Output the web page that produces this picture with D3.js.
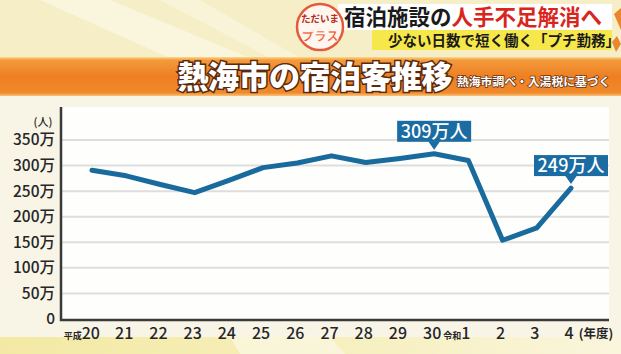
<!DOCTYPE html>
<html>
<head>
<meta charset="utf-8">
<script src="https://cdn.jsdelivr.net/npm/d3@7"></script>
<style>
  body { margin: 0; background: #f8f4e6; }
  svg { display: block; font-family: "Noto Sans CJK JP", "Noto Sans", sans-serif; }
</style>
</head>
<body>
<div id="container"></div>
<script>
/* CONSTANTS AND GLOBALS */
const width = 621,
  height = 354,
  plot = { left: 61, right: 609, top: 107, bottom: 319 };

/* DATA */
const fiscalYears = ["H20", "H21", "H22", "H23", "H24", "H25", "H26", "H27", "H28", "H29", "H30", "R1", "R2", "R3", "R4"];
const yearLabels = ["20", "21", "22", "23", "24", "25", "26", "27", "28", "29", "30", "1", "2", "3", "4"];
const eraLabels = ["平成", "", "", "", "", "", "", "", "", "", "", "令和", "", "", ""];
const guests = [291, 280, 263, 247, 271, 296, 305, 319, 306, 314, 323, 310, 154, 178, 256];
const yTicks = [0, 50, 100, 150, 200, 250, 300, 350];
const calloutYears = ["H30", "R4"];
const calloutLabels = ["309万人", "249万人"];

const titleText = "熱海市の宿泊客推移";
const sourceText = "熱海市調べ・入湯税に基づく";
const headlineBlack = "宿泊施設の";
const headlineRed = "人手不足解消へ";
const subHeadline = "少ない日数で短く働く「プチ勤務」";

const svg = d3.select("#container").append("svg")
  .attr("width", width)
  .attr("height", height);

const defs = svg.append("defs");

const barGrad = defs.append("linearGradient")
  .attr("id", "bar").attr("x1", 0).attr("y1", 0).attr("x2", 0).attr("y2", 1);
barGrad.append("stop").attr("offset", "0%").attr("stop-color", "#fbd98a");
barGrad.append("stop").attr("offset", "8%").attr("stop-color", "#f39a3c");
barGrad.append("stop").attr("offset", "50%").attr("stop-color", "#ee7f22");
barGrad.append("stop").attr("offset", "92%").attr("stop-color", "#f08a2c");
barGrad.append("stop").attr("offset", "100%").attr("stop-color", "#f9c47a");

const footGrad = defs.append("linearGradient")
  .attr("id", "foot").attr("x1", 0).attr("y1", 0).attr("x2", 1).attr("y2", 0);
footGrad.append("stop").attr("offset", "0%").attr("stop-color", "#f3e9a4");
footGrad.append("stop").attr("offset", "45%").attr("stop-color", "#f6eeb8");
footGrad.append("stop").attr("offset", "100%").attr("stop-color", "#faf5dc");

/* BACKGROUND */
svg.append("rect").attr("width", width).attr("height", height).attr("fill", "#f8f4e6");
svg.append("rect").attr("width", width).attr("height", 58).attr("fill", "#f6eec6");
svg.append("path")
  .attr("d", "M40,0 L110,0 L250,58 L170,58 Z")
  .attr("fill", "#fbf7e4").attr("opacity", 0.8);
svg.append("path")
  .attr("d", "M160,0 L200,0 L300,58 L270,58 Z")
  .attr("fill", "#fbf6de").attr("opacity", 0.7);
svg.append("rect").attr("y", 337).attr("width", width).attr("height", 17).attr("fill", "url(#foot)");
svg.append("path")
  .attr("d", "M230,337 L330,337 L345,354 L240,354 Z")
  .attr("fill", "#fbf8e6").attr("opacity", 0.7);

/* HEADLINE BANNER */
svg.append("rect")
  .attr("x", 338).attr("y", 4).attr("width", 274).attr("height", 26)
  .attr("fill", "#ffffff");
svg.append("rect")
  .attr("x", 372).attr("y", 30).attr("width", 240).attr("height", 20)
  .attr("fill", "#f6e84a");

const head = svg.append("text")
  .attr("x", 344).attr("y", 25)
  .attr("font-size", 21.5).attr("font-weight", 700);
head.append("tspan").attr("fill", "#1a1a1a").text(headlineBlack);
head.append("tspan").attr("fill", "#d9261c").text(headlineRed);

svg.append("text")
  .attr("x", 388).attr("y", 46)
  .attr("font-size", 14.5).attr("font-weight", 700)
  .attr("fill", "#1a1a1a")
  .text(subHeadline);

svg.append("path")
  .attr("d", "M614,14 L621,8 L621,30 Z")
  .attr("fill", "#e9872c");
svg.append("path")
  .attr("d", "M612,42 L617,36 L621,44 L616,52 Z")
  .attr("fill", "#e9872c");

const logo = svg.append("g").attr("transform", "translate(320,27)");
logo.append("circle").attr("r", 23).attr("fill", "#fff7ee").attr("stroke", "#e35b3c").attr("stroke-width", 2.5);
logo.append("text").attr("y", -5).attr("text-anchor", "middle")
  .attr("font-size", 9.5).attr("font-weight", 700).attr("fill", "#b52a1c").text("ただいま");
logo.append("text").attr("y", 14).attr("text-anchor", "middle")
  .attr("font-size", 12.5).attr("font-weight", 900).attr("fill", "#ef5a2e")
  .attr("stroke", "#ffffff").attr("stroke-width", 0.6).text("プラス");

/* TITLE BAR */
svg.append("rect")
  .attr("y", 57).attr("width", width).attr("height", 39)
  .attr("fill", "url(#bar)");

svg.append("text")
  .attr("x", 452).attr("y", 88)
  .attr("text-anchor", "end")
  .attr("font-size", 31).attr("font-weight", 900)
  .attr("fill", "#ffffff")
  .attr("stroke", "#5a2a0e").attr("stroke-width", 3)
  .attr("paint-order", "stroke")
  .attr("letter-spacing", -0.5)
  .text(titleText);

svg.append("text")
  .attr("x", 457).attr("y", 86)
  .attr("font-size", 11.8).attr("font-weight", 700)
  .attr("fill", "#ffffff")
  .attr("stroke", "#6a3210").attr("stroke-width", 1.5)
  .attr("paint-order", "stroke")
  .text(sourceText);

/* SCALES */
const xScale = d3.scalePoint()
  .domain(fiscalYears)
  .range([92, 571]);

const yScale = d3.scaleLinear()
  .domain([0, 350])
  .range([plot.bottom, 140]);

/* PLOT PANEL */
svg.append("rect")
  .attr("x", plot.left).attr("y", plot.top)
  .attr("width", plot.right - plot.left).attr("height", plot.bottom - plot.top)
  .attr("fill", "#fefefc");

svg.append("g")
  .selectAll("line")
  .data(yTicks.filter(d => d > 0))
  .join("line")
  .attr("x1", plot.left).attr("x2", plot.right)
  .attr("y1", d => yScale(d)).attr("y2", d => yScale(d))
  .attr("stroke", "#dedede").attr("stroke-width", 2);

const yAxis = d3.axisLeft(yScale)
  .tickValues(yTicks)
  .tickSize(0)
  .tickPadding(6)
  .tickFormat(d => d === 0 ? "0" : d + "万");

svg.append("g")
  .attr("class", "y-axis")
  .attr("transform", `translate(${plot.left},0)`)
  .call(yAxis)
  .call(g => g.select(".domain").remove())
  .selectAll("text")
  .attr("font-family", "\"Noto Sans CJK JP\", sans-serif")
  .attr("font-size", 15.5).attr("font-weight", 500)
  .attr("fill", "#262626");

svg.append("text")
  .attr("x", 43).attr("y", 126)
  .attr("text-anchor", "middle")
  .attr("font-size", 11).attr("font-weight", 500)
  .attr("fill", "#262626")
  .text("(人)");

/* X AXIS LABELS */
const xLabels = svg.append("g").attr("class", "x-axis");
fiscalYears.forEach((key, i) => {
  const pos = xScale(key) - 2;
  const t = xLabels.append("text")
    .attr("x", pos)
    .attr("y", 339)
    .attr("text-anchor", "middle")
    .attr("fill", "#262626");
  if (eraLabels[i]) {
    t.attr("text-anchor", "end").attr("x", pos + (yearLabels[i].length > 1 ? 10 : 4));
    t.append("tspan").attr("font-size", 9).attr("font-weight", 700).text(eraLabels[i]);
  }
  t.append("tspan").attr("font-size", 16).attr("font-weight", 500).text(yearLabels[i]);
});

svg.append("text")
  .attr("x", 596).attr("y", 338)
  .attr("text-anchor", "middle")
  .attr("font-size", 12.5).attr("font-weight", 700)
  .attr("fill", "#262626")
  .text("(年度)");

/* AXIS LINES */
svg.append("path")
  .attr("d", `M${plot.left},${plot.top} V${plot.bottom + 1} H${plot.right}`)
  .attr("fill", "none")
  .attr("stroke", "#3a3a3a").attr("stroke-width", 2.5);

/* LINE */
const line = d3.line()
  .x((d, i) => xScale(fiscalYears[i]))
  .y(d => yScale(d));

svg.append("path")
  .datum(guests)
  .attr("fill", "none")
  .attr("stroke", "#196b9e")
  .attr("stroke-width", 5)
  .attr("stroke-linejoin", "round")
  .attr("stroke-linecap", "round")
  .attr("d", line);

/* CALLOUTS */
calloutYears.forEach((key, i) => {
  const idx = fiscalYears.indexOf(key);
  const cx = xScale(key);
  const cy = yScale(guests[idx]);
  const boxW = 74, boxH = 21;
  const bottom = cy - 12;
  const g = svg.append("g");
  g.append("rect")
    .attr("x", cx - boxW / 2).attr("y", bottom - boxH)
    .attr("width", boxW).attr("height", boxH)
    .attr("fill", "#1a6ca3");
  g.append("path")
    .attr("d", `M${cx - 6},${bottom - 0.5} L${cx + 6},${bottom - 0.5} L${cx},${cy - 4} Z`)
    .attr("fill", "#1a6ca3");
  g.append("text")
    .attr("x", cx).attr("y", bottom - 4)
    .attr("text-anchor", "middle")
    .attr("font-size", 18).attr("font-weight", 500)
    .attr("fill", "#ffffff")
    .text(calloutLabels[i]);
});
</script>
</body>
</html>
